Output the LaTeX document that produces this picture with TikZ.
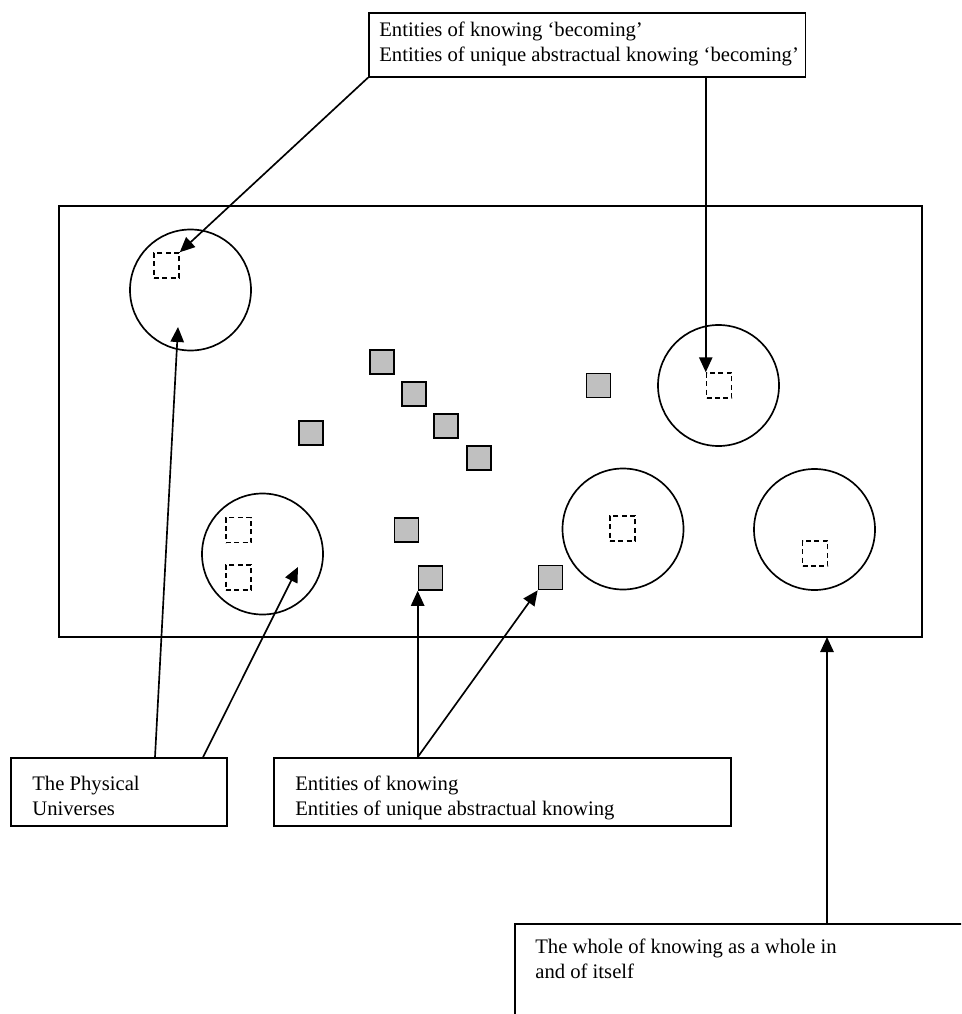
\documentclass[tikz,border=0pt]{standalone}
\usepackage{fontspec}
\setmainfont{Liberation Serif}
\usetikzlibrary{arrows.meta,calc}
\definecolor{cellgray}{HTML}{C0C0C0}
\begin{document}
\begin{tikzpicture}[x=0.6pt,y=-0.6pt,
  boxframe/.style={draw,line width=1pt,inner sep=0pt,rectangle},
  txt/.style={inner sep=0pt,anchor=base west,align=left,font=\fontsize{12.4pt}{15pt}\selectfont},
  ring/.style={draw,circle,line width=1pt,inner sep=0pt,minimum size=72.6pt},
  slot/.style={draw,dash pattern=on 3pt off 2pt,line width=0.9pt,inner sep=0pt,minimum size=15pt},
  cell/.style={draw,fill=cellgray,line width=1pt,inner sep=0pt,minimum size=14.4pt},
  arrowline/.style={line width=1pt,-{Triangle[length=9pt,width=8pt]}}]

\useasboundingbox (0,0) rectangle (961,1014);
\clip (0,0) rectangle (961,1014);

% the whole of knowing
\node[boxframe,minimum width=517.8pt,minimum height=258.6pt] (whole) at (490.5,421.5) {};

% physical universes
\node[ring] (c1) at (190.5,290) {};
\node[ring] (c2) at (718.5,385.5) {};
\node[ring] (c3) at (814.5,529.5) {};
\node[ring] (c4) at (623,529) {};
\node[ring] (c5) at (262.5,554) {};

% entities of knowing 'becoming' inside the universes
\node[slot] (s1) at (166.5,265.5) {};
\node[slot] (s2) at (719,385.5) {};
\node[slot] (s3) at (815,553.5) {};
\node[slot] (s4) at (622.5,528.5) {};
\node[slot] (s5) at (238.5,530) {};
\node[slot] (s6) at (238.5,577.5) {};

% entities of knowing
\node[cell] (g1) at (382,362) {};
\node[cell] (g2) at (414,394) {};
\node[cell] (g3) at (446,426) {};
\node[cell] (g4) at (479,458) {};
\node[cell] (g5) at (311,433) {};
\node[cell] (g6) at (598.5,385.5) {};
\node[cell] (g7) at (406.5,530) {};
\node[cell] (g8) at (430.5,578) {};
\node[cell] (g9) at (550.5,577.5) {};

% caption boxes (text anchored at the baseline of the last line)
\node[boxframe,anchor=north west,minimum width=262pt,minimum height=38.4pt] (topbox) at (368,12) {};
\node[txt] (toptext) at (379,62) {Entities of knowing ‘becoming’\\Entities of unique abstractual knowing ‘becoming’};

\node[boxframe,minimum width=129.6pt,minimum height=40.8pt] (physbox) at (119,792) {};
\node[txt] (phystext) at (32,815) {The Physical\\Universes};

\node[boxframe,minimum width=274.2pt,minimum height=40.8pt] (entbox) at (502.5,792) {};
\node[txt] (enttext) at (295,815) {Entities of knowing\\Entities of unique abstractual knowing};

\node[boxframe,anchor=north west,minimum width=300pt,minimum height=80pt] (wbox) at (514,923) {};
\node[txt] (wtext) at (535,978) {The whole of knowing as a whole in\\and of itself};

% connector end points
\coordinate (p1) at (178,327);
\coordinate (p2) at (298,567);
\coordinate (wtip) at (827,637);

% connectors
\draw[arrowline] (topbox.south west) -- (s1.north east);
\draw[arrowline] (topbox.south -| s2.north west) -- (s2.north west);
\draw[arrowline] (physbox.north -| 155,0) -- (p1);
\draw[arrowline] (physbox.north -| 203,0) -- (p2);
\draw[arrowline] (entbox.north -| g8.south west) -- (g8.south west);
\draw[arrowline] (entbox.north -| g8.south west) -- (g9.south west);
\draw[arrowline] (wbox.north -| wtip) -- (wtip);
\end{tikzpicture}
\end{document}
